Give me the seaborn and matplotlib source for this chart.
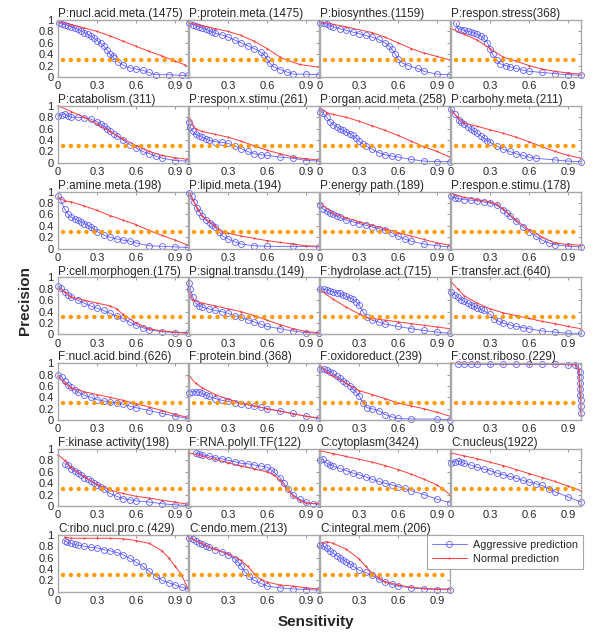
import matplotlib
matplotlib.use("Agg")
import matplotlib.pyplot as plt
import pandas as pd
import seaborn as sns

# panel titles, left to right, top to bottom
TITLES = [
    "P:nucl.acid.meta.(1475)", "P:protein.meta.(1475)", "P:biosynthes.(1159)", "P:respon.stress(368)",
    "P:catabolism.(311)", "P:respon.x.stimu.(261)", "P:organ.acid.meta.(258)", "P:carbohy.meta.(211)",
    "P:amine.meta.(198)", "P:lipid.meta.(194)", "P:energy path.(189)", "P:respon.e.stimu.(178)",
    "P:cell.morphogen.(175)", "P:signal.transdu.(149)", "F:hydrolase.act.(715)", "F:transfer.act.(640)",
    "F:nucl.acid.bind.(626)", "F:protein.bind.(368)", "F:oxidoreduct.(239)", "F:const.riboso.(229)",
    "F:kinase activity(198)", "F:RNA.polyII.TF(122)", "C:cytoplasm(3424)", "C:nucleus(1922)",
    "C:ribo.nucl.pro.c.(429)", "C:endo.mem.(213)", "C:integral.mem.(206)",
]

# (sensitivity, precision) - aggressive prediction
AGGRESSIVE = [
    [(0.01, .95), (.03, .93), (.05, .92), (.08, .9), (.1, .88), (.13, .86), (.15, .84), (.18, .81), (.2, .78), (.23, .75),
     (.25, .72), (.28, .68), (.3, .64), (.33, .59), (.35, .55), (.38, .47), (.4, .40), (.42, .36), (.43, .33), (.46, .27),
     (.5, .21), (.55, .16), (.6, .14), (.65, .12), (.7, .08), (.75, .04), (.85, .04), (.95, .03), (1.0, .03)],
    [(0, .95), (.03, .92), (.05, .9), (.08, .88), (.1, .86), (.13, .84), (.15, .82), (.18, .79), (.2, .77), (.25, .74),
     (.3, .7), (.35, .65), (.4, .6), (.45, .55), (.5, .5), (.55, .44), (.58, .38), (.6, .32), (.62, .25), (.65, .18),
     (.7, .13), (.75, .09), (.8, .05), (.9, .05), (1.0, .04)],
    [(0, .95), (.03, .94), (.05, .93), (.08, .9), (.1, .88), (.15, .85), (.2, .82), (.25, .79), (.3, .76), (.35, .73),
     (.4, .7), (.45, .66), (.5, .6), (.53, .55), (.55, .5), (.58, .4), (.6, .32), (.63, .25), (.68, .2), (.75, .15),
     (.8, .1), (.9, .05), (1.0, .04)],
    [(.04, .95), (.05, .85), (.08, .83), (.1, .82), (.13, .8), (.15, .79), (.18, .77), (.2, .75), (.23, .72), (.25, .68),
     (.28, .6), (.3, .5), (.32, .4), (.35, .3), (.38, .23), (.42, .2), (.45, .18), (.5, .15), (.55, .12), (.6, .1),
     (.7, .08), (.8, .06), (.9, .04), (1.0, .03)],
    [(0, .82), (.03, .84), (.05, .86), (.08, .82), (.1, .8), (.15, .8), (.2, .79), (.25, .77), (.3, .72), (.33, .68),
     (.35, .65), (.38, .6), (.4, .56), (.43, .51), (.45, .47), (.5, .4), (.55, .32), (.6, .26), (.65, .2), (.7, .16),
     (.75, .12), (.8, .08), (.9, .04), (1.0, .03)],
    [(0, .72), (.01, .62), (.03, .55), (.05, .5), (.08, .47), (.1, .45), (.13, .42), (.15, .4), (.2, .37), (.25, .36),
     (.3, .34), (.35, .3), (.4, .25), (.45, .2), (.5, .16), (.55, .14), (.6, .13), (.7, .1), (.8, .08), (.9, .04), (1.0, .03)],
    [(0, .9), (.02, .88), (.05, .8), (.08, .72), (.1, .67), (.13, .63), (.15, .6), (.18, .57), (.2, .54), (.23, .51),
     (.25, .48), (.28, .43), (.3, .38), (.33, .33), (.35, .3), (.4, .24), (.45, .18), (.5, .14), (.55, .12), (.6, .1),
     (.7, .06), (.8, .03), (.9, .02), (1.0, .02)],
    [(0, .95), (.03, .85), (.06, .75), (.08, .71), (.1, .68), (.13, .63), (.15, .6), (.18, .55), (.2, .52), (.23, .47),
     (.25, .44), (.28, .39), (.3, .36), (.35, .3), (.4, .24), (.45, .2), (.5, .16), (.55, .13), (.6, .1), (.65, .08),
     (.8, .05), (.9, .03), (1.0, .02)],
    [(0, .92), (.02, .85), (.05, .7), (.08, .6), (.1, .55), (.13, .52), (.15, .5), (.18, .47), (.2, .44), (.23, .41),
     (.25, .38), (.28, .34), (.3, .3), (.35, .24), (.4, .2), (.45, .17), (.5, .15), (.55, .13), (.6, .1), (.7, .05),
     (.8, .04), (.9, .03), (1.0, .02)],
    [(0, .97), (.02, .92), (.04, .82), (.06, .72), (.08, .65), (.1, .58), (.13, .5), (.16, .45), (.18, .42), (.2, .38),
     (.23, .3), (.26, .22), (.3, .17), (.35, .12), (.4, .08), (.5, .05), (.6, .04), (.8, .04), (1.0, .03)],
    [(0, .77), (.02, .7), (.05, .66), (.08, .62), (.1, .6), (.13, .57), (.15, .55), (.2, .5), (.25, .47), (.3, .44),
     (.35, .41), (.4, .38), (.45, .35), (.5, .32), (.55, .28), (.6, .22), (.65, .17), (.7, .13), (.8, .08), (.9, .05), (1.0, .03)],
    [(0, .92), (.03, .89), (.05, .88), (.1, .86), (.15, .85), (.2, .84), (.25, .82), (.3, .8), (.35, .76), (.4, .68),
     (.43, .63), (.45, .58), (.5, .48), (.55, .38), (.6, .3), (.65, .22), (.7, .15), (.75, .1), (.8, .07), (.9, .04), (1.0, .03)],
    [(0, .85), (.02, .82), (.05, .75), (.08, .69), (.1, .65), (.15, .6), (.2, .55), (.25, .5), (.3, .46), (.35, .42),
     (.4, .37), (.45, .32), (.5, .28), (.55, .22), (.6, .16), (.65, .12), (.7, .08), (.8, .05), (.9, .03), (1.0, .02)],
    [(0, .9), (.01, .8), (.03, .65), (.05, .55), (.08, .5), (.1, .48), (.15, .45), (.2, .42), (.25, .4), (.3, .37),
     (.35, .33), (.4, .3), (.45, .26), (.5, .22), (.55, .18), (.6, .14), (.7, .1), (.8, .06), (.9, .03), (1.0, .02)],
    [(0, .8), (.03, .79), (.05, .78), (.08, .76), (.1, .75), (.13, .73), (.15, .72), (.18, .69), (.2, .67), (.23, .64),
     (.25, .62), (.28, .57), (.3, .52), (.33, .4), (.36, .3), (.4, .25), (.45, .22), (.5, .18), (.6, .14), (.7, .1),
     (.8, .07), (.9, .04), (1.0, .02)],
    [(0, .75), (.03, .7), (.05, .65), (.08, .61), (.1, .58), (.13, .55), (.15, .52), (.18, .49), (.2, .47), (.23, .44),
     (.25, .42), (.3, .35), (.33, .27), (.37, .23), (.4, .2), (.45, .17), (.5, .14), (.55, .12), (.6, .1), (.7, .06),
     (.8, .04), (.9, .02), (1.0, .02)],
    [(0, .8), (.03, .76), (.05, .68), (.08, .62), (.1, .58), (.13, .53), (.15, .5), (.2, .44), (.25, .4), (.3, .36),
     (.35, .34), (.4, .32), (.45, .3), (.5, .28), (.55, .25), (.6, .22), (.7, .17), (.8, .12), (.9, .07), (1.0, .03)],
    [(0, .48), (.02, .5), (.05, .5), (.08, .49), (.1, .47), (.13, .44), (.15, .42), (.2, .38), (.25, .35), (.3, .33),
     (.35, .31), (.4, .29), (.45, .27), (.5, .25), (.55, .23), (.6, .2), (.7, .16), (.8, .12), (.9, .07), (1.0, .03)],
    [(0, .9), (.03, .9), (.05, .88), (.08, .85), (.1, .82), (.13, .77), (.15, .74), (.18, .69), (.2, .65), (.23, .6),
     (.25, .55), (.28, .49), (.3, .43), (.33, .3), (.36, .22), (.4, .2), (.45, .17), (.5, .1), (.55, .06), (.6, .03),
     (.7, .02), (.9, .02), (1.0, .01)],
    [(.05, .98), (.1, .98), (.15, .98), (.2, .98), (.3, .98), (.4, .98), (.5, .98), (.6, .98), (.7, .98), (.8, .98),
     (.9, .97), (.95, .97), (.98, .95), (.99, .85), (.99, .75), (.99, .65), (.99, .55), (.99, .45), (1.0, .35),
     (1.0, .25), (1.0, .12)],
    [(.05, .74), (.08, .72), (.1, .65), (.13, .61), (.15, .58), (.18, .54), (.2, .5), (.23, .47), (.25, .44), (.28, .4),
     (.3, .37), (.33, .33), (.35, .3), (.4, .22), (.45, .17), (.5, .13), (.55, .11), (.6, .09), (.7, .07), (.8, .04),
     (.9, .02), (1.0, .01)],
    [(.05, .93), (.08, .92), (.1, .9), (.15, .88), (.2, .85), (.25, .83), (.3, .8), (.35, .78), (.4, .75), (.45, .74),
     (.5, .72), (.55, .7), (.6, .68), (.63, .64), (.65, .6), (.7, .5), (.73, .4), (.76, .3), (.8, .2), (.85, .12),
     (.9, .07), (.95, .04), (1.0, .03)],
    [(0, .8), (.02, .82), (.05, .75), (.08, .72), (.1, .7), (.15, .66), (.2, .62), (.25, .58), (.3, .55), (.35, .51),
     (.4, .47), (.45, .43), (.5, .4), (.55, .37), (.6, .34), (.65, .31), (.7, .27), (.8, .2), (.9, .12), (1.0, .06)],
    [(0, .76), (.03, .78), (.05, .79), (.08, .77), (.1, .75), (.15, .72), (.2, .68), (.25, .65), (.3, .62), (.35, .58),
     (.4, .55), (.45, .52), (.5, .49), (.55, .45), (.6, .42), (.65, .39), (.7, .36), (.75, .3), (.8, .25), (.9, .16), (1.0, .07)],
    [(.05, .9), (.07, .87), (.1, .85), (.13, .83), (.15, .82), (.2, .8), (.25, .78), (.3, .77), (.35, .74), (.4, .72),
     (.45, .69), (.5, .65), (.55, .59), (.6, .52), (.65, .45), (.7, .36), (.75, .28), (.8, .2), (.85, .16), (.9, .12),
     (.95, .08), (1.0, .05)],
    [(0, .95), (.03, .93), (.05, .9), (.08, .86), (.1, .83), (.13, .8), (.15, .78), (.2, .74), (.25, .7), (.3, .65),
     (.35, .58), (.38, .52), (.4, .45), (.43, .35), (.46, .28), (.5, .2), (.55, .15), (.6, .1), (.7, .07), (.8, .05),
     (.9, .04), (1.0, .03)],
    [(0, .82), (.03, .8), (.05, .76), (.08, .71), (.1, .68), (.13, .63), (.15, .6), (.18, .56), (.2, .53), (.23, .49),
     (.25, .46), (.3, .38), (.35, .34), (.4, .29), (.45, .22), (.5, .17), (.55, .13), (.6, .1), (.7, .07), (.8, .05),
     (.9, .04), (1.0, .04)],
]

# normal prediction
NORMAL = [
    [(0, .97), (.1, .92), (.2, .86), (.3, .8), (.4, .72), (.5, .63), (.6, .54), (.7, .45), (.8, .37), (.9, .28), (.98, .21)],
    [(0, .95), (.1, .9), (.2, .85), (.3, .8), (.4, .73), (.5, .63), (.6, .5), (.7, .35), (.75, .3), (.85, .22), (1.0, .17)],
    [(0, .97), (.2, .88), (.4, .78), (.5, .7), (.6, .6), (.7, .5), (.8, .42), (.9, .36), (1.0, .3)],
    [(0, .85), (.1, .75), (.2, .65), (.3, .5), (.4, .35), (.5, .28), (.6, .2), (.7, .14), (.8, .1), (.9, .07), (1.0, .05)],
    [(0, 1.0), (.1, .9), (.2, .8), (.3, .68), (.4, .55), (.5, .42), (.6, .3), (.7, .2), (.8, .13), (.9, .09), (1.0, .06)],
    [(0, .78), (.05, .6), (.1, .55), (.2, .5), (.3, .45), (.4, .38), (.5, .3), (.6, .22), (.7, .16), (.8, .1), (.9, .07), (1.0, .05)],
    [(0, .97), (.05, .88), (.1, .85), (.2, .8), (.3, .73), (.4, .65), (.5, .57), (.6, .48), (.7, .38), (.8, .28), (.9, .2), (1.0, .1)],
    [(0, .92), (.05, .8), (.1, .7), (.2, .64), (.3, .58), (.4, .52), (.5, .45), (.6, .37), (.7, .28), (.8, .2), (.9, .13), (1.0, .08)],
    [(0, .9), (.05, .84), (.1, .82), (.2, .75), (.3, .67), (.4, .58), (.5, .5), (.6, .42), (.7, .32), (.8, .23), (.9, .15), (1.0, .06)],
    [(0, .98), (.03, .85), (.06, .72), (.1, .58), (.15, .48), (.2, .4), (.25, .3), (.3, .27), (.4, .22), (.5, .18),
     (.6, .14), (.7, .11), (.8, .08), (.9, .05), (1.0, .04)],
    [(0, .8), (.1, .62), (.2, .54), (.3, .47), (.4, .41), (.5, .35), (.6, .28), (.7, .22), (.8, .16), (.9, .1), (1.0, .06)],
    [(0, .97), (.1, .9), (.2, .86), (.3, .82), (.35, .78), (.4, .7), (.5, .5), (.6, .33), (.7, .2), (.8, .1), (.9, .07), (1.0, .06)],
    [(0, .82), (.05, .74), (.1, .66), (.2, .6), (.3, .55), (.4, .5), (.45, .45), (.5, .35), (.6, .2), (.7, .1), (.8, .06), (.9, .04), (1.0, .03)],
    [(0, .75), (.03, .6), (.1, .55), (.2, .5), (.3, .45), (.4, .4), (.5, .33), (.6, .25), (.7, .17), (.8, .1), (.9, .05), (1.0, .03)],
    [(0, .78), (.1, .62), (.2, .48), (.3, .36), (.35, .3), (.4, .28), (.5, .25), (.6, .22), (.7, .19), (.8, .16), (.9, .13), (1.0, .1)],
    [(0, .92), (.05, .8), (.1, .68), (.2, .55), (.3, .45), (.4, .38), (.5, .33), (.6, .28), (.7, .23), (.8, .19), (.9, .14), (1.0, .1)],
    [(0, .78), (.05, .65), (.1, .57), (.2, .5), (.3, .45), (.4, .4), (.5, .35), (.6, .29), (.7, .23), (.8, .17), (.9, .1), (1.0, .05)],
    [(0, .78), (.05, .65), (.1, .57), (.2, .45), (.3, .37), (.4, .3), (.5, .25), (.6, .2), (.7, .16), (.8, .11), (.9, .07), (1.0, .04)],
    [(0, .95), (.05, .85), (.1, .78), (.2, .65), (.3, .52), (.4, .45), (.5, .38), (.6, .3), (.7, .25), (.8, .2), (.9, .14), (1.0, .07)],
    [(0, 1.0), (.2, 1.0), (.4, .99), (.6, .99), (.8, .99), (.95, .98), (.98, .9), (.99, .6), (1.0, .3), (1.0, .1)],
    [(0, .9), (.05, .8), (.1, .68), (.2, .52), (.3, .38), (.4, .28), (.5, .22), (.6, .17), (.7, .14), (.8, .1), (.9, .07), (1.0, .03)],
    [(0, .93), (.1, .88), (.2, .82), (.3, .76), (.4, .7), (.5, .65), (.6, .6), (.65, .55), (.7, .45), (.75, .3), (.8, .18),
     (.85, .1), (.9, .05), (1.0, .04)],
    [(0, .97), (.1, .92), (.2, .87), (.3, .82), (.4, .77), (.5, .71), (.6, .64), (.7, .56), (.8, .47), (.9, .37), (1.0, .2)],
    [(0, .93), (.1, .88), (.2, .83), (.3, .77), (.4, .71), (.5, .64), (.6, .57), (.7, .5), (.8, .43), (.9, .35), (1.0, .27)],
    [(.05, .96), (.1, .94), (.2, .94), (.3, .94), (.4, .94), (.5, .93), (.6, .9), (.7, .85), (.8, .72), (.85, .6), (.9, .45),
     (.95, .3), (1.0, .05)],
    [(0, .95), (.1, .85), (.2, .75), (.3, .67), (.4, .55), (.45, .45), (.5, .32), (.55, .22), (.6, .17), (.7, .12),
     (.8, .1), (.9, .07), (1.0, .05)],
    [(0, .85), (.05, .88), (.1, .85), (.2, .75), (.3, .58), (.35, .45), (.4, .33), (.45, .25), (.5, .18), (.6, .12),
     (.7, .08), (.8, .06), (.9, .05), (1.0, .05)],
]

THRESHOLD = 0.3
XTICKS = [0, 0.3, 0.6, 0.9]
XTICK_LABELS = ["0", "0.3", "0.6", "0.9"]
YTICKS = [0, 0.2, 0.4, 0.6, 0.8, 1]
YTICK_LABELS = ["0", "0.2", "0.4", "0.6", "0.8", "1"]

BLUE = "#4545ff"
RED = "#ff3b3b"
ORANGE = "#ff9a00"
FRAME = "#a8a8a8"

sns.set_style("white")
plt.rcParams["font.family"] = ["Liberation Sans", "DejaVu Sans"]

W, H = 600, 635
fig = plt.figure(figsize=(W / 100, H / 100), dpi=100)


def to_frame(points):
    return pd.DataFrame(points, columns=["Sensitivity", "Precision"])


for i, title in enumerate(TITLES):
    row, col = divmod(i, 4)
    left = 58 + col * 131
    bottom = 77 + row * 85.8
    ax = fig.add_axes([left / W, 1 - bottom / H, 130 / W, 57 / H])

    sns.lineplot(data=to_frame(AGGRESSIVE[i]), x="Sensitivity", y="Precision", ax=ax,
                 sort=False, estimator=None, legend=False, label="Aggressive prediction",
                 color=BLUE, linewidth=0.6, marker="o", markersize=4.3,
                 markerfacecolor="none", markeredgecolor=BLUE, markeredgewidth=0.6,
                 alpha=0.85, clip_on=False)
    sns.lineplot(data=to_frame(NORMAL[i]), x="Sensitivity", y="Precision", ax=ax,
                 sort=False, estimator=None, legend=False, label="Normal prediction",
                 color=RED, linewidth=0.7, marker=".", markersize=2.2,
                 markeredgecolor=RED, markeredgewidth=0.3, clip_on=False)
    ax.plot([0.04, 0.95], [THRESHOLD, THRESHOLD], color=ORANGE, linewidth=3.2,
            linestyle=(0, (0.01, 1.75)), dash_capstyle="round", zorder=5)

    ax.set_xlim(0, 1)
    ax.set_ylim(0, 1)
    ax.set_xlabel("")
    ax.set_ylabel("")
    ax.set_xticks(XTICKS, XTICK_LABELS)
    ax.set_yticks(YTICKS, YTICK_LABELS if col == 0 else [])
    ax.tick_params(direction="in", top=True, right=True, length=2, width=0.6,
                   color="#888888", labelsize=8, pad=3)
    for sp in ax.spines.values():
        sp.set_color(FRAME)
        sp.set_linewidth(1.0)
    ax.set_title(title, loc="left", fontsize=8.5, pad=2)

handles, labels = ax.get_legend_handles_labels()
leg = fig.legend(handles[:2], labels[:2], loc="upper left", bbox_to_anchor=(427 / W, 1 - 535 / H),
                 fontsize=7.8, frameon=True, fancybox=False, edgecolor=FRAME, framealpha=1,
                 handlelength=3.2, handletextpad=0.6, borderpad=0.45, labelspacing=0.35,
                 borderaxespad=0, numpoints=1)
leg.get_frame().set_linewidth(0.8)

fig.text(25 / W, 1 - 300 / H, "Precision", rotation=90, ha="center", va="center",
         fontsize=11, fontweight="bold")
fig.text(316 / W, 1 - 622 / H, "Sensitivity", ha="center", va="center",
         fontsize=11, fontweight="bold")

fig.savefig("out.png", dpi=100)
